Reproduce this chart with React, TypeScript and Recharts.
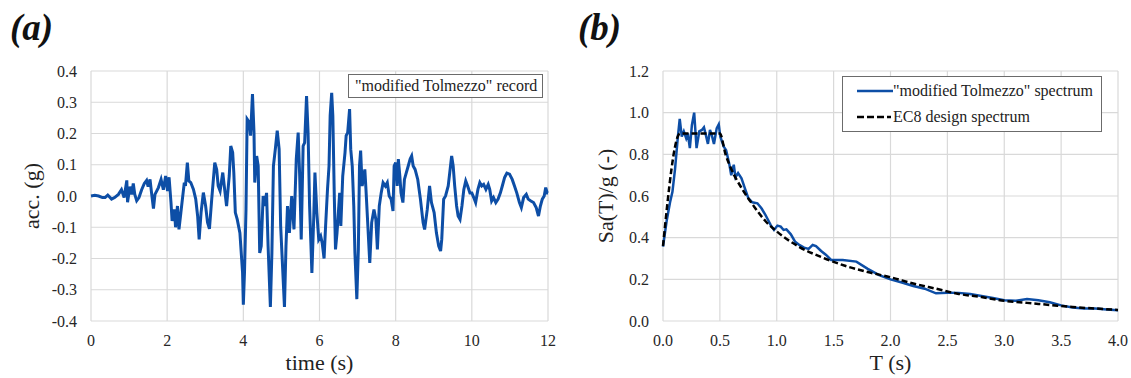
import React from "react";
import { LineChart, Line, XAxis, YAxis, CartesianGrid, Legend } from "recharts";

const FONT = '"Liberation Serif", "Times New Roman", serif';
const BLUE = "#0d4ea6";
const GRID = "#d9d9d9";
const TICK = { fill: "#262626", fontSize: 16, fontFamily: FONT, style: { fontFamily: FONT } };

// (a) acceleration record
const accTime = [
  0, 0.1, 0.2, 0.3, 0.37, 0.44, 0.54, 0.62, 0.72, 0.8, 0.87, 0.94, 0.96, 1.02, 1.07, 1.11, 1.15, 1.2, 1.26,
  1.33, 1.4, 1.46, 1.5, 1.55, 1.59, 1.64, 1.68, 1.77, 1.84, 1.9, 1.96, 2.01, 2.05, 2.1, 2.13, 2.19, 2.22,
  2.27, 2.31, 2.36, 2.4, 2.45, 2.48, 2.53, 2.57, 2.62, 2.69, 2.75, 2.8, 2.84, 2.89, 2.95, 3.01, 3.06, 3.11,
  3.17, 3.25, 3.3, 3.34, 3.39, 3.46, 3.52, 3.56, 3.63, 3.67, 3.72, 3.75, 3.79, 3.84, 3.91, 3.98, 4.0, 4.03,
  4.07, 4.1, 4.16, 4.19, 4.24, 4.28, 4.3, 4.35, 4.39, 4.43, 4.47, 4.52, 4.56, 4.61, 4.65, 4.71, 4.75, 4.79,
  4.84, 4.89, 4.94, 4.98, 5.03, 5.08, 5.12, 5.16, 5.21, 5.27, 5.33, 5.39, 5.44, 5.48, 5.52, 5.57, 5.61, 5.66,
  5.7, 5.74, 5.8, 5.85, 5.88, 5.93, 5.98, 6.03, 6.07, 6.12, 6.16, 6.21, 6.25, 6.28, 6.32, 6.35, 6.39, 6.42,
  6.46, 6.49, 6.53, 6.56, 6.61, 6.67, 6.7, 6.74, 6.79, 6.82, 6.86, 6.9, 6.93, 6.98, 7.02, 7.05, 7.08, 7.12,
  7.15, 7.19, 7.22, 7.27, 7.32, 7.37, 7.43, 7.48, 7.52, 7.57, 7.62, 7.67, 7.73, 7.78, 7.83, 7.88, 7.93, 7.96,
  8.0, 8.04, 8.07, 8.11, 8.14, 8.19, 8.23, 8.28, 8.33, 8.38, 8.42, 8.46, 8.51, 8.58, 8.65, 8.72, 8.76, 8.83,
  8.89, 8.94, 9.01, 9.07, 9.13, 9.18, 9.21, 9.26, 9.31, 9.38, 9.42, 9.47, 9.51, 9.55, 9.6, 9.64, 9.69, 9.74,
  9.79, 9.84, 9.89, 9.95, 10.0, 10.05, 10.1, 10.16, 10.21, 10.26, 10.31, 10.37, 10.43, 10.47, 10.52, 10.57,
  10.63, 10.69, 10.75, 10.8, 10.86, 10.92, 10.99, 11.06, 11.12, 11.18, 11.25, 11.3, 11.36, 11.43, 11.48,
  11.55, 11.62, 11.69, 11.75, 11.8, 11.85, 11.9, 11.94, 11.98, 12.0,
];
const accValue = [
  0, 0.002, 0, -0.005, -0.005, 0.003, -0.01, -0.005, 0.005, 0.02, -0.005, 0.05, -0.02, 0.03, 0.005, 0.04,
  0.005, -0.015, -0.005, 0.02, 0.04, 0.05, 0.03, 0.053, 0.01, -0.04, 0.005, 0.027, 0.053, 0.02, 0.064, 0.016,
  0.06, -0.02, -0.08, -0.043, -0.1, -0.032, -0.107, -0.053, -0.01, 0.043, 0.032, 0.107, 0.048, 0.043, 0.021,
  -0.01, -0.064, -0.139, -0.053, 0.011, -0.032, -0.085, -0.105, -0.01, 0.107, 0.085, 0.032, 0.016, 0.075,
  0.01, -0.032, 0.064, 0.16, 0.139, 0.075, -0.053, -0.075, -0.118, -0.246, -0.348, -0.246, -0.043, 0.246,
  0.235, 0.193, 0.326, 0.203, 0.043, 0.128, 0.096, -0.182, -0.16, 0, -0.032, 0.01, -0.16, -0.355, -0.182,
  0.096, 0.15, 0.209, 0.15, -0.096, -0.225, -0.355, -0.16, -0.032, -0.118, 0, -0.107, 0.118, 0.203, 0.064,
  -0.139, 0.16, 0.171, 0.32, 0.203, -0.032, -0.246, -0.064, 0.075, -0.053, -0.139, -0.128, -0.15, -0.2,
  -0.096, 0.021, 0.096, 0.257, 0.33, 0.257, -0.01, -0.171, -0.118, -0.064, 0.01, -0.096, 0.064, 0.139, 0.193,
  0.203, 0.278, 0.15, 0.096, -0.032, -0.182, -0.33, -0.171, 0.096, 0.145, 0.032, 0.053, 0.085, 0.021, -0.096,
  -0.214, -0.085, -0.043, -0.075, -0.171, -0.032, 0.01, 0.043, 0.032, 0.043, 0, -0.01, -0.048, 0.096, 0.107,
  0.032, 0.118, 0.064, 0.01, -0.021, 0.053, 0.075, 0.096, 0.118, 0.128, 0.096, 0.085, 0.053, -0.01, -0.085,
  -0.107, -0.043, 0.032, -0.021, -0.053, -0.118, -0.16, -0.176, -0.139, -0.01, 0, 0.032, 0.075, 0.128, 0.096,
  0.032, -0.032, -0.064, -0.075, -0.032, 0.021, 0.048, 0.032, 0.01, 0.01, -0.005, -0.021, 0.021, 0.043, 0.032,
  0.037, 0.021, 0.037, 0.021, -0.016, -0.005, -0.021, -0.01, 0.01, 0.032, 0.059, 0.073, 0.07, 0.053, 0.032,
  0.01, -0.021, -0.037, -0.005, 0.005, -0.01, -0.016, -0.021, -0.037, -0.064, -0.032, -0.01, 0, 0.027, 0.01,
  0.01,
];
const accTicksX = [0, 2, 4, 6, 8, 10, 12];
const accTicksY = [-0.4, -0.3, -0.2, -0.1, 0, 0.1, 0.2, 0.3, 0.4];

// (b) response spectrum of the record
const specPeriod = [
  0, 0.032, 0.062, 0.083, 0.106, 0.13, 0.147, 0.165, 0.183, 0.204, 0.218, 0.236, 0.254, 0.274, 0.295, 0.319,
  0.342, 0.36, 0.378, 0.395, 0.413, 0.43, 0.448, 0.472, 0.49, 0.504, 0.534, 0.555, 0.584, 0.6, 0.622, 0.637,
  0.66, 0.69, 0.72, 0.75, 0.785, 0.83, 0.867, 0.9, 0.947, 0.976, 1.006, 1.035, 1.06, 1.085, 1.124, 1.162,
  1.198, 1.24, 1.28, 1.316, 1.345, 1.39, 1.434, 1.478, 1.58, 1.7, 1.8, 1.9, 2.0, 2.1, 2.2, 2.3, 2.4, 2.5,
  2.6, 2.7, 2.8, 2.9, 3.0, 3.1, 3.2, 3.3, 3.4, 3.5, 3.6, 3.7, 3.8, 3.9, 4.0,
];
const specValue = [
  0.357, 0.48, 0.57, 0.62, 0.73, 0.88, 0.97, 0.885, 0.91, 0.877, 0.9, 0.83, 0.94, 1.0, 0.83, 0.91, 0.917,
  0.93, 0.89, 0.85, 0.917, 0.89, 0.85, 0.925, 0.944, 0.885, 0.837, 0.82, 0.75, 0.7, 0.75, 0.69, 0.71, 0.685,
  0.637, 0.59, 0.57, 0.565, 0.54, 0.51, 0.46, 0.437, 0.458, 0.453, 0.437, 0.44, 0.416, 0.38, 0.365, 0.352,
  0.346, 0.365, 0.36, 0.336, 0.317, 0.293, 0.293, 0.285, 0.25, 0.22, 0.2, 0.185, 0.168, 0.155, 0.133, 0.136,
  0.135, 0.13, 0.12, 0.11, 0.1, 0.097, 0.105, 0.1, 0.09, 0.075, 0.065, 0.06, 0.06, 0.055, 0.052,
];
// EC8 design spectrum
const ec8Period = [0, 0.15, 0.5, 0.55, 0.6, 0.7, 0.8, 0.9, 1.0, 1.2, 1.4, 1.6, 1.8, 2.0, 2.2, 2.4, 2.6, 2.8, 3.0, 3.2, 3.4, 3.6, 3.8, 4.0];
const ec8Value = [0.36, 0.9, 0.9, 0.8, 0.73, 0.63, 0.55, 0.48, 0.43, 0.355, 0.305, 0.265, 0.235, 0.21, 0.18, 0.155, 0.13, 0.115, 0.097, 0.087, 0.077, 0.067, 0.06, 0.053];
const specTicksX = [0, 0.5, 1, 1.5, 2, 2.5, 3, 3.5, 4];
const specTicksY = [0, 0.2, 0.4, 0.6, 0.8, 1.0, 1.2];

const accData = accTime.map((t, i) => ({ t, acc: accValue[i] }));
const specData = specPeriod.map((t, i) => ({ t, sa: specValue[i] }));
const ec8Data = ec8Period.map((t, i) => ({ t, sa: ec8Value[i] }));

const fmt1 = (v: number) => v.toFixed(1);

const panelTitle = (left: number): React.CSSProperties => ({
  position: "absolute",
  left,
  top: 6,
  fontFamily: FONT,
  fontSize: 37,
  fontWeight: "bold",
  fontStyle: "italic",
  lineHeight: "44px",
  color: "#111",
});

const axisTitle = {
  fontSize: 22,
  fontFamily: FONT,
  fill: "#222",
};

function RecordLegend() {
  return (
    <div
      style={{
        border: "1px solid #6b6b6b",
        fontFamily: FONT,
        fontSize: 16,
        lineHeight: "19px",
        color: "#222",
        padding: "1px 5px 2px 6px",
        whiteSpace: "nowrap",
        background: "#fff",
      }}
    >
      "modified Tolmezzo" record
    </div>
  );
}

function SpectrumLegend() {
  const row: React.CSSProperties = { display: "flex", alignItems: "center", height: 26 };
  return (
    <div
      style={{
        border: "1px solid #6b6b6b",
        fontFamily: FONT,
        fontSize: 16,
        color: "#222",
        padding: "1px 8px 1px 14px",
        whiteSpace: "nowrap",
        background: "#fff",
      }}
    >
      <div style={row}>
        <svg width={36} height={6}>
          <line x1={0} y1={3} x2={36} y2={3} stroke={BLUE} strokeWidth={2.5} />
        </svg>
        <span>"modified Tolmezzo" spectrum</span>
      </div>
      <div style={row}>
        <svg width={36} height={6}>
          <line x1={0} y1={3} x2={34} y2={3} stroke="#000" strokeWidth={2.5} strokeDasharray="7 3" />
        </svg>
        <span>EC8 design spectrum</span>
      </div>
    </div>
  );
}

export default function App() {
  return (
    <div
      style={{
        position: "absolute",
        left: 0,
        top: 0,
        width: 1131,
        height: 378,
        background: "#fff",
        overflow: "hidden",
        fontFamily: FONT,
      }}
    >
      <div style={panelTitle(10)}>(a)</div>
      <div style={panelTitle(578)}>(b)</div>

      <div style={{ position: "absolute", left: 0, top: 0 }}>
        <LineChart width={560} height={378} margin={{ top: 71, right: 12, bottom: 27, left: 51 }}>
          <CartesianGrid stroke={GRID} strokeWidth={1.2} />
          <XAxis
            type="number"
            dataKey="t"
            domain={[0, 12]}
            ticks={accTicksX}
            height={30}
            axisLine={false}
            tickLine={false}
            tickMargin={8}
            tick={TICK}
            label={{ value: "time (s)", position: "bottom", offset: 3, ...axisTitle }}
          />
          <YAxis
            type="number"
            domain={[-0.4, 0.4]}
            ticks={accTicksY}
            width={40}
            axisLine={false}
            tickLine={false}
            tickMargin={8}
            tick={TICK}
            tickFormatter={fmt1}
            label={{
              value: "acc. (g)",
              angle: -90,
              position: "left",
              offset: 20,
              ...axisTitle,
              style: { textAnchor: "middle" },
            }}
          />
          <Legend
            layout="vertical"
            align="center"
            verticalAlign="middle"
            content={() => <RecordLegend />}
            wrapperStyle={{ position: "absolute", left: 348, top: 74, width: "auto", height: "auto" }}
          />
          <Line
            data={accData}
            dataKey="acc"
            name='"modified Tolmezzo" record'
            type="linear"
            stroke={BLUE}
            strokeWidth={3}
            dot={false}
            isAnimationActive={false}
          />
        </LineChart>
      </div>

      <div style={{ position: "absolute", left: 560, top: 0 }}>
        <LineChart width={571} height={378} margin={{ top: 71, right: 13, bottom: 27, left: 63 }}>
          <CartesianGrid stroke={GRID} strokeWidth={1.2} />
          <XAxis
            type="number"
            dataKey="t"
            domain={[0, 4]}
            ticks={specTicksX}
            height={30}
            axisLine={false}
            tickLine={false}
            tickMargin={8}
            tick={TICK}
            tickFormatter={fmt1}
            label={{ value: "T (s)", position: "bottom", offset: 3, ...axisTitle }}
          />
          <YAxis
            type="number"
            domain={[0, 1.2]}
            ticks={specTicksY}
            width={40}
            axisLine={false}
            tickLine={false}
            tickMargin={8}
            tick={TICK}
            tickFormatter={fmt1}
            label={{
              value: "Sa(T)/g (-)",
              angle: -90,
              position: "left",
              offset: 18,
              ...axisTitle,
              style: { textAnchor: "middle" },
            }}
          />
          <Legend
            layout="vertical"
            align="center"
            verticalAlign="middle"
            content={() => <SpectrumLegend />}
            wrapperStyle={{ position: "absolute", left: 282, top: 76, width: "auto", height: "auto" }}
          />
          <Line
            data={specData}
            dataKey="sa"
            name='"modified Tolmezzo" spectrum'
            type="linear"
            stroke={BLUE}
            strokeWidth={2.5}
            dot={false}
            isAnimationActive={false}
          />
          <Line
            data={ec8Data}
            dataKey="sa"
            name="EC8 design spectrum"
            type="monotone"
            stroke="#000"
            strokeWidth={2.5}
            strokeDasharray="6 3"
            dot={false}
            isAnimationActive={false}
          />
        </LineChart>
      </div>
    </div>
  );
}
